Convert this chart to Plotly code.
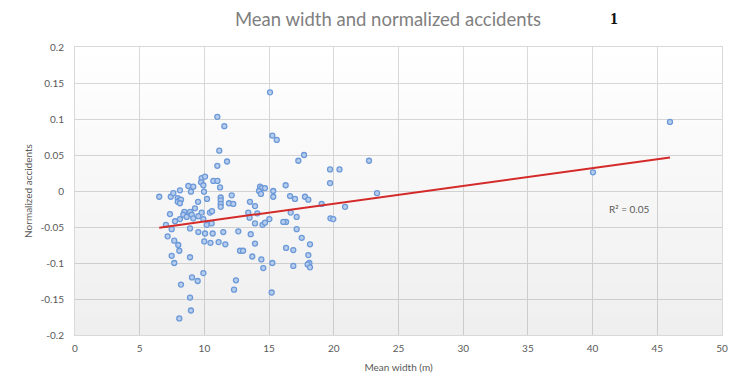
import plotly.graph_objects as go

# Mean width (m) of each site
mean_width = [
    15.07, 11.00, 11.54, 15.25, 15.59, 11.15, 11.75, 11.00, 17.26, 17.70,
    19.71, 20.44, 22.72, 19.71, 23.34, 40.03, 45.98, 20.87,
    6.51, 7.40, 7.60, 8.11, 8.76, 9.14, 9.79, 9.74, 9.92, 8.96, 9.97,
    7.94, 8.06, 7.94, 8.19, 8.11, 10.20, 9.51, 9.27, 7.34, 8.45, 8.37,
    8.63, 8.89, 9.02, 9.53, 9.79, 9.92, 8.11, 7.73, 7.03, 7.47, 8.89,
    9.53, 10.05, 7.16, 10.18, 9.14, 7.67, 7.98, 8.06, 7.47, 7.67, 8.89,
    9.99, 10.47, 11.10, 11.62, 9.92, 9.04, 9.48, 8.19, 8.89, 8.96, 8.06,
    12.44, 12.29, 12.75, 10.69, 11.01, 11.21, 10.05, 12.11, 11.26, 11.26,
    11.26, 11.26, 11.90, 12.23, 13.52, 13.91, 14.30, 14.43, 14.68, 14.22,
    14.37, 10.43, 10.59, 10.56, 10.64, 11.46, 12.62, 13.58, 13.39, 13.49,
    14.09, 13.91, 14.49, 14.68, 15.02, 15.32, 15.32, 16.28, 16.62, 17.00,
    17.77, 18.03, 19.06, 16.67, 17.13, 16.31, 16.10, 19.74, 19.96, 17.13,
    17.52, 18.16, 16.31, 16.87, 18.03, 18.11, 17.98, 18.16, 16.87, 15.25,
    14.40, 14.55, 13.70, 13.91, 15.20, 12.99,
]

# Normalized accidents of each site
normalized_accidents = [
    0.137, 0.103, 0.090, 0.077, 0.071, 0.056, 0.041, 0.035, 0.042, 0.050,
    0.030, 0.030, 0.042, 0.011, -0.003, 0.026, 0.096, -0.022,
    -0.008, -0.008, -0.003, 0.001, 0.007, 0.006, 0.018, 0.012, 0.008, -0.001, -0.001,
    -0.010, -0.013, -0.015, -0.012, -0.017, -0.011, -0.015, -0.024, -0.032, -0.029, -0.033,
    -0.036, -0.029, -0.033, -0.035, -0.030, -0.039, -0.039, -0.042, -0.047, -0.053, -0.052,
    -0.057, -0.059, -0.063, -0.047, -0.038, -0.069, -0.075, -0.083, -0.090, -0.100, -0.092,
    -0.070, -0.072, -0.071, -0.074, -0.114, -0.120, -0.125, -0.130, -0.148, -0.166, -0.177,
    -0.124, -0.137, -0.083, 0.014, 0.014, 0.005, 0.020, -0.006, -0.009, -0.013,
    -0.018, -0.022, -0.017, -0.018, -0.015, -0.021, 0.006, 0.004, 0.004, 0.000,
    -0.004, -0.030, -0.028, -0.045, -0.059, -0.057, -0.056, -0.060, -0.030, -0.037,
    -0.031, -0.045, -0.047, -0.044, -0.039, 0.000, -0.008, 0.008, -0.007, -0.011,
    -0.008, -0.012, -0.018, -0.030, -0.036, -0.043, -0.043, -0.038, -0.039, -0.053,
    -0.065, -0.074, -0.079, -0.082, -0.089, -0.100, -0.102, -0.106, -0.104, -0.100,
    -0.095, -0.107, -0.091, -0.073, -0.141, -0.083,
]

# Linear trendline
trend_slope = 0.00247
trend_intercept = -0.067
r_squared_label = "R² = 0.05"

x_ticks = [0, 5, 10, 15, 20, 25, 30, 35, 40, 45, 50]
y_ticks = [0.2, 0.15, 0.1, 0.05, 0, -0.05, -0.1, -0.15, -0.2]
y_tick_labels = ["0.2", "0.15", "0.1", "0.05", "0", "-0.05", "-0.1", "-0.15", "-0.2"]

x_range = [0, 50]
y_range = [-0.2, 0.2]

font_family = "Lato, 'Open Sans', sans-serif"
grid_color = "#d9d9d9"
text_gray = "#595959"

# the page body adds an 8px offset, so the figure is 8px smaller each way
FIG_W, FIG_H = 735, 371
M_L, M_R, M_T, M_B = 67, 21, 39, 44

fig = go.Figure()

# subtle vertical gradient in the plot area
fig.add_trace(go.Scatter(
    x=[x_range[0], x_range[1], x_range[1], x_range[0], x_range[0]],
    y=[y_range[0], y_range[0], y_range[1], y_range[1], y_range[0]],
    mode="none", fill="toself",
    fillgradient=dict(type="vertical",
                      colorscale=[[0, "rgba(0,0,0,0.065)"], [1, "rgba(0,0,0,0)"]]),
    hoverinfo="skip", showlegend=False,
))

fig.add_trace(go.Scatter(
    x=mean_width, y=normalized_accidents, mode="markers",
    marker=dict(size=5, color="#b7cdee", line=dict(color="#6c99d8", width=1.3)),
    showlegend=False, name="Sites",
))

x_min, x_max = min(mean_width), max(mean_width)
fig.add_trace(go.Scatter(
    x=[x_min, x_max],
    y=[trend_intercept + trend_slope * x_min, trend_intercept + trend_slope * x_max],
    mode="lines", line=dict(color="#d42a2a", width=2),
    showlegend=False, name="Linear trend",
))

fig.add_annotation(x=42.8, y=-0.025, xref="x", yref="y", text=r_squared_label,
                   showarrow=False, font=dict(family=font_family, size=10, color=text_gray))

plot_w = FIG_W - M_L - M_R
plot_h = FIG_H - M_T - M_B
fig.add_annotation(x=(606 - M_L) / plot_w, y=(FIG_H - M_B) / plot_h,
                   xref="paper", yref="paper", xanchor="center", yanchor="top",
                   text="<b>1</b>", showarrow=False,
                   font=dict(family="Liberation Serif", size=16, color="#111111"))

fig.update_layout(
    width=FIG_W, height=FIG_H,
    margin=dict(l=M_L, r=M_R, t=M_T, b=M_B, autoexpand=False),
    paper_bgcolor="white", plot_bgcolor="white",
    title=dict(text="Mean width and normalized accidents", x=380 / FIG_W, xanchor="center",
               y=1 - 12 / FIG_H, yanchor="middle",
               font=dict(family=font_family, size=18.5, color="#7f7f7f")),
    font=dict(family=font_family, size=10, color=text_gray),
)

fig.update_xaxes(
    range=x_range, tickvals=x_ticks, showgrid=True, gridcolor=grid_color, gridwidth=1,
    zeroline=False, showline=True, linecolor=grid_color, mirror=True, automargin=False,
    ticks="", ticklabelstandoff=4, tickfont=dict(size=10, color=text_gray),
    title=dict(text="Mean width (m)", font=dict(size=10, color=text_gray), standoff=10),
)
fig.update_yaxes(
    range=y_range, tickvals=y_ticks, ticktext=y_tick_labels, showgrid=True,
    gridcolor=grid_color, gridwidth=1, zeroline=False, showline=True, automargin=False,
    linecolor=grid_color, mirror=True, ticks="", ticklabelstandoff=8,
    tickfont=dict(size=10, color=text_gray),
    title=dict(text="Normalized accidents", font=dict(size=10, color=text_gray), standoff=6),
)

fig.write_html("out.html")
